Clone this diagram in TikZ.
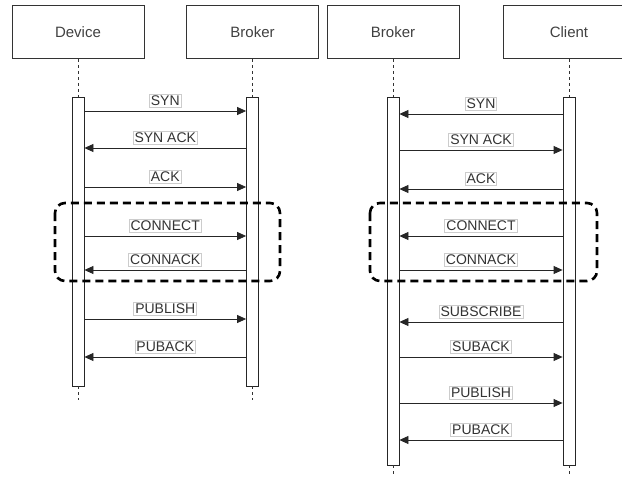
\documentclass[tikz,border=0pt]{standalone}
\usepackage{fontspec}
\setmainfont{Liberation Sans}
\usepackage{tikz}
\usetikzlibrary{arrows.meta,positioning}

\begin{document}
\begin{tikzpicture}[
    x=1pt, y=-1pt,
    actor/.style={draw=black!80, line width=0.8pt, minimum width=132pt, minimum height=53pt,
                  font=\fontsize{15}{18}\selectfont, text=black!75},
    bar/.style={draw=black!85, line width=0.8pt, fill=white, minimum width=12pt, inner sep=0pt},
    life/.style={black!80, line width=0.8pt, dash pattern=on 3pt off 3pt},
    msg/.style={black!85, line width=0.8pt, -{Triangle[length=9pt,width=8pt]}},
    lbl/.style={draw=black!20, fill=white, inner sep=1.5pt, text=black!80,
                font=\fontsize{14}{16}\selectfont},
    grp/.style={line width=2.6pt, dash pattern=on 8pt off 5pt, rounded corners=10pt}
]
\useasboundingbox (0,0) rectangle (622,477);

% Actors
\node[actor] (dev) at (78,32) {Device};
\node[actor] (lbrk) at (252.5,32) {Broker};
\node[actor] (rbrk) at (393,32) {Broker};
\node[actor] (cli) at (569,32) {Client};

% Activation bars
\node[bar, minimum height=289pt] (dbar) at (78,241.5) {};
\node[bar, minimum height=289pt] (lbar) at (252.5,241.5) {};
\node[bar, minimum height=368pt] (rbar) at (393,281) {};
\node[bar, minimum height=368pt] (cbar) at (569,281) {};

% Lifelines
\foreach \a/\b in {dev/dbar, lbrk/lbar, rbrk/rbar, cli/cbar} {
    \draw[life] (\a.south) -- (\b.north);
    \draw[life] (\b.south) -- ++(0,14);
}

% Messages, left diagram
\foreach \y/\s/\t/\m in {111/dbar.east/lbar.west/SYN, 148/lbar.west/dbar.east/SYN ACK,
        187/dbar.east/lbar.west/ACK, 236/dbar.east/lbar.west/CONNECT,
        270/lbar.west/dbar.east/CONNACK, 319/dbar.east/lbar.west/PUBLISH,
        357/lbar.west/dbar.east/PUBACK} {
    \draw[msg] (\s |- 0,\y) -- (\t |- 0,\y) node[lbl, midway, above=3pt] {\m};
}

% Messages, right diagram
\foreach \y/\s/\t/\m in {114/cbar.west/rbar.east/SYN, 150/rbar.east/cbar.west/SYN ACK,
        189/cbar.west/rbar.east/ACK, 236/cbar.west/rbar.east/CONNECT,
        270/rbar.east/cbar.west/CONNACK, 322/cbar.west/rbar.east/SUBSCRIBE,
        357/rbar.east/cbar.west/SUBACK, 403/rbar.east/cbar.west/PUBLISH,
        440/cbar.west/rbar.east/PUBACK} {
    \draw[msg] (\s |- 0,\y) -- (\t |- 0,\y) node[lbl, midway, above=3pt] {\m};
}

% Connection phase
\draw[grp] (55,203) rectangle (280,281);
\draw[grp] (370,203) rectangle (597,281);

\end{tikzpicture}
\end{document}
